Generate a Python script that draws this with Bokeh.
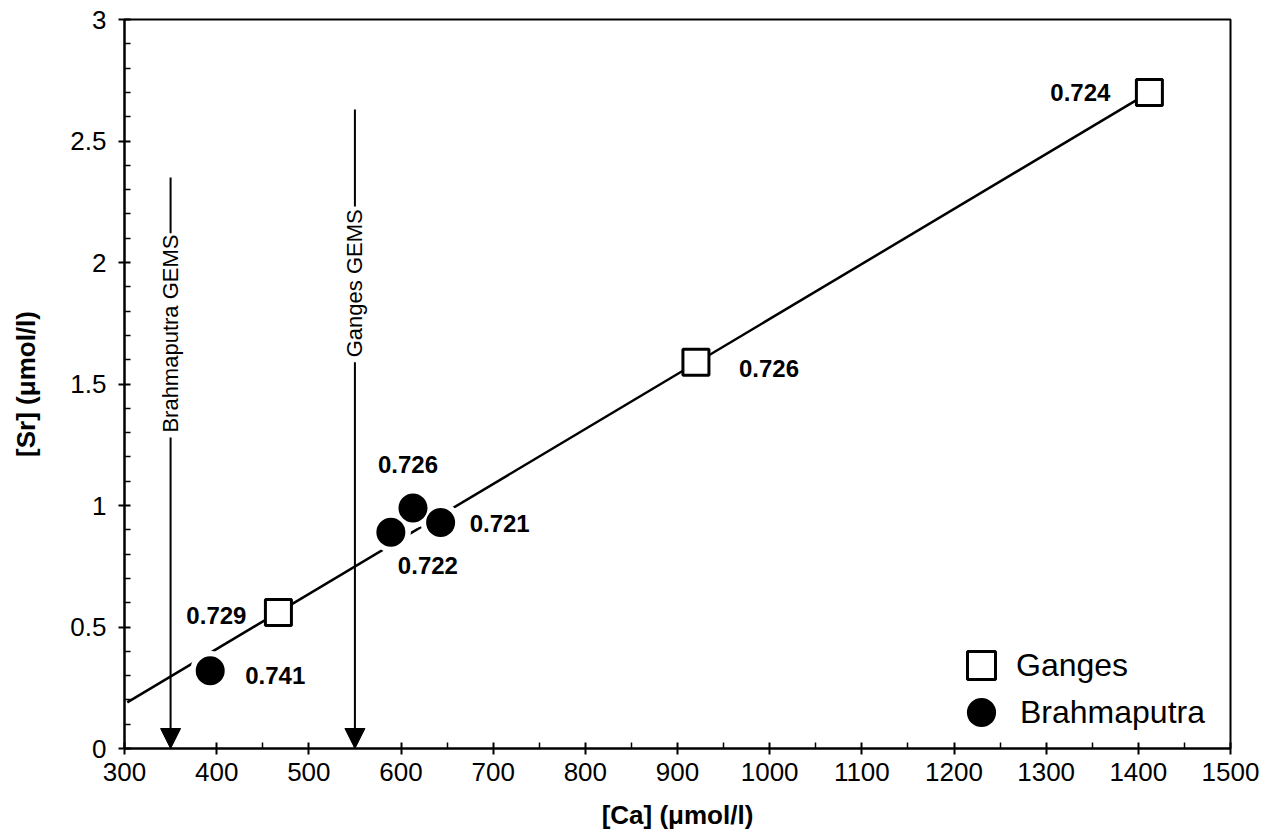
from math import pi
from bokeh.plotting import figure
from bokeh.models import (FixedTicker, Arrow, NormalHead, Legend, LegendItem,
                          ColumnDataSource, Range1d)
from bokeh.core.properties import value
from bokeh.embed import file_html
from bokeh.resources import INLINE

# ---------------- data ----------------
ganges_ca = [467, 920, 1412]
ganges_sr = [0.56, 1.59, 2.70]
ganges_ratio = ["0.729", "0.726", "0.724"]

brahma_ca = [393, 589, 613, 643]
brahma_sr = [0.32, 0.89, 0.99, 0.93]
brahma_ratio = ["0.741", "0.722", "0.726", "0.721"]

fit_ca = [303, 1412]
fit_sr = [0.19, 2.70]

gems_names = ["Brahmaputra GEMS", "Ganges GEMS"]
gems_ca = [350, 550]

x_ticks = [300, 400, 500, 600, 700, 800, 900, 1000, 1100, 1200, 1300, 1400, 1500]
x_minor = [350, 450, 550, 650, 750, 850, 950, 1050, 1150, 1250, 1350, 1450]
y_ticks = [0, 0.5, 1, 1.5, 2, 2.5, 3]
y_tick_labels = ["0", "0.5", "1", "1.5", "2", "2.5", "3"]
y_minor = [0.1, 0.2, 0.3, 0.4, 0.6, 0.7, 0.8, 0.9, 1.1, 1.2, 1.3, 1.4, 1.6, 1.7, 1.8, 1.9,
           2.1, 2.2, 2.3, 2.4, 2.6, 2.7, 2.8, 2.9]

# ---------------- layout / style ----------------
FONT = "Liberation Sans"
ganges_dx = [-32, 43, -39]
ganges_dy = [3, 6, 0]
ganges_align = ["right", "left", "right"]
brahma_dx = [35, 7, -35, 29]
brahma_dy = [5, 33, -43, 1]
brahma_align = ["left", "left", "left", "left"]

gems_text_bottom = [1.30, 1.61]
gems_seg_bottom = [2.12, 2.23]
gems_seg_top = [2.35, 2.63]
gems_arrow_top = [1.28, 1.59]
gems_arrow_end = [0, 0]

p = figure(width=1264, height=832, x_range=Range1d(300, 1500), y_range=Range1d(0, 3),
           output_backend="svg", toolbar_location=None,
           min_border_left=124, min_border_right=34, min_border_top=19, min_border_bottom=83,
           x_axis_label="[Ca] (\u03bcmol/l)", y_axis_label="[Sr] (\u03bcmol/l)")
p.xgrid.visible = False
p.ygrid.visible = False
p.outline_line_color = "black"
p.outline_line_width = 2
p.background_fill_color = "white"
p.border_fill_color = "white"

p.xaxis.ticker = FixedTicker(ticks=x_ticks, minor_ticks=x_minor)
p.yaxis.ticker = FixedTicker(ticks=y_ticks, minor_ticks=y_minor)
p.yaxis.major_label_overrides = dict(zip(y_ticks, y_tick_labels))

for ax in (p.xaxis[0], p.yaxis[0]):
    ax.axis_line_width = 2
    ax.axis_line_color = "black"
    ax.major_tick_line_width = 2
    ax.major_tick_line_color = "black"
    ax.minor_tick_line_width = 1.5
    ax.minor_tick_line_color = "black"
    ax.major_tick_in = 6
    ax.major_tick_out = 6
    ax.minor_tick_in = 6
    ax.minor_tick_out = 0
    ax.major_label_text_font = FONT
    ax.major_label_text_font_size = "26px"
    ax.major_label_text_color = "black"
    ax.axis_label_text_font = FONT
    ax.axis_label_text_font_size = "26px"
    ax.axis_label_text_font_style = "bold"
    ax.axis_label_text_color = "black"
p.xaxis.major_label_standoff = 8
p.xaxis.axis_label_standoff = 16
p.yaxis.major_label_standoff = 12
p.yaxis.axis_label_standoff = 26

# regression line
p.line(fit_ca, fit_sr, line_color="black", line_width=2.5)

# GEMS arrows
p.segment(x0=gems_ca, y0=gems_seg_bottom, x1=gems_ca, y1=gems_seg_top,
          line_color="black", line_width=2)
arrow_src = ColumnDataSource(dict(x=gems_ca, y0=gems_arrow_top, y1=gems_arrow_end))
p.add_layout(Arrow(end=NormalHead(size=20, fill_color="black", line_color="black", line_width=1),
                   x_start="x", y_start="y0", x_end="x", y_end="y1", source=arrow_src,
                   line_color="black", line_width=2))
p.text(x=gems_ca, y=gems_text_bottom, text=gems_names, angle=pi / 2,
       text_align="left", text_baseline="middle", text_font=value(FONT),
       text_font_size="22px", text_color="black")

# points
p.scatter(brahma_ca, brahma_sr, marker="circle", size=40, fill_color="white", line_color=None)
r_ci = p.scatter(brahma_ca, brahma_sr, marker="circle", size=31, fill_color="black",
                 line_color="white", line_width=2)
r_sq = p.scatter(ganges_ca, ganges_sr, marker="square", size=26, fill_color="white",
                 line_color="black", line_width=3)

# value labels
g_src = ColumnDataSource(dict(x=ganges_ca, y=ganges_sr, t=ganges_ratio, dx=ganges_dx,
                              dy=ganges_dy, al=ganges_align))
p.text(x="x", y="y", text="t", x_offset="dx", y_offset="dy", text_align="al",
       text_baseline="middle", text_font=value(FONT), text_font_size="24px",
       text_font_style="bold", text_color="black", source=g_src)
b_src = ColumnDataSource(dict(x=brahma_ca, y=brahma_sr, t=brahma_ratio, dx=brahma_dx,
                              dy=brahma_dy, al=brahma_align))
p.text(x="x", y="y", text="t", x_offset="dx", y_offset="dy", text_align="al",
       text_baseline="middle", text_font=value(FONT), text_font_size="24px",
       text_font_style="bold", text_color="black", source=b_src)

# legends
common = dict(padding=0, margin=0, spacing=0, label_standoff=0, border_line_color=None,
              background_fill_alpha=0, label_text_font=FONT, label_text_font_size="32px",
              label_text_color="black")
leg1 = Legend(items=[LegendItem(label="Ganges", renderers=[r_sq])], location=(822, 48),
              glyph_width=70, glyph_height=70, **common)
leg2 = Legend(items=[LegendItem(label="Brahmaputra", renderers=[r_ci])], location=(818, -3),
              glyph_width=78, glyph_height=78, **common)
p.add_layout(leg1)
p.add_layout(leg2)

open("out.html", "w").write(file_html(p, INLINE))
